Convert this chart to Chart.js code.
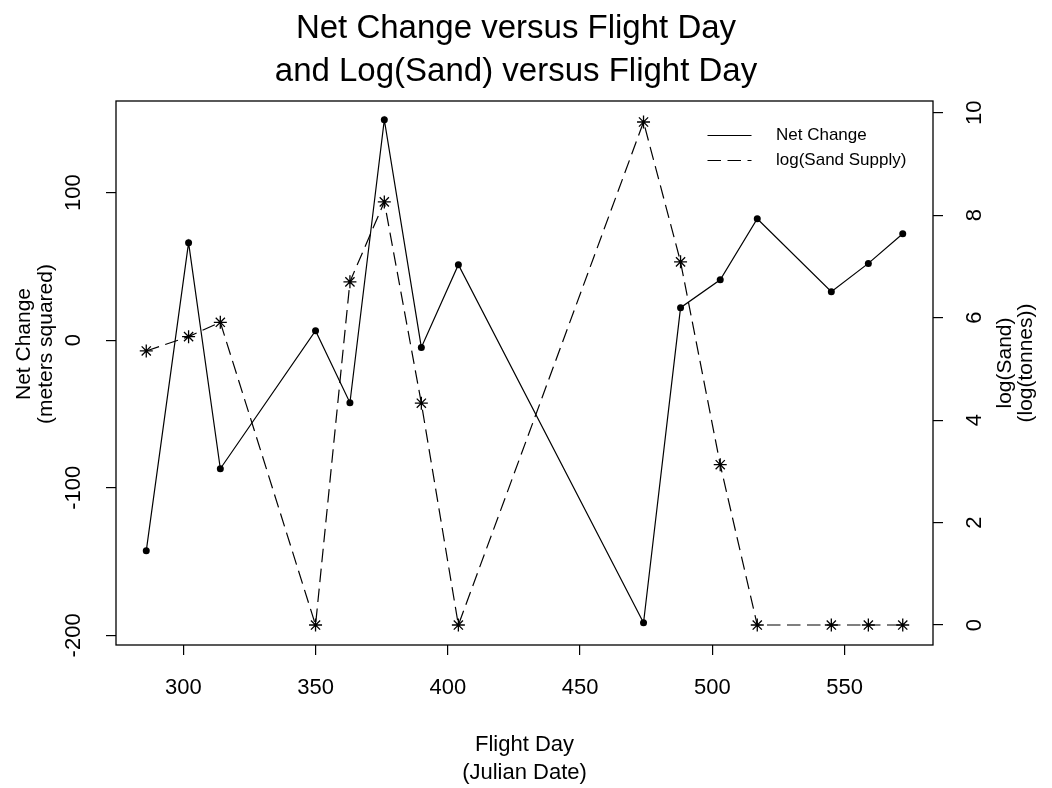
<html>
<head>
    <script src="https://cdn.jsdelivr.net/npm/chart.js"></script>
    <style>
        body { margin: 0; background: #ffffff; }
    </style>
</head>
<body>
    <canvas id="flightChart" width="1052" height="788"></canvas>
<script>
    // values
    const flightDays = [286, 302, 314, 350, 363, 376, 390, 404, 474, 488, 503, 517, 545, 559, 572];
    const netChange = [-142.7, 66.0, -87.1, 6.4, -42.4, 149.3, -4.9, 51.1, -191.5, 22.0, 40.9, 82.2, 32.8, 52.0, 72.1];
    const logSand = [5.35, 5.63, 5.91, 0, 6.70, 8.26, 4.33, 0, 9.82, 7.09, 3.13, 0, 0, 0, 0];

    const dayTicks = [300, 350, 400, 450, 500, 550];
    const netTicks = [-200, -100, 0, 100];
    const sandTicks = [0, 2, 4, 6, 8, 10];

    const mainTitle = ['Net Change versus Flight Day', 'and Log(Sand) versus Flight Day'];
    const dayTitle = ['Flight Day', '(Julian Date)'];
    const netTitle = ['Net Change', '(meters squared)'];
    const sandTitle = ['log(Sand)', '(log(tonnes))'];
    const seriesNames = ['Net Change', 'log(Sand Supply)'];

    const FONT = '"Liberation Sans", Arial, Helvetica, sans-serif';
    Chart.defaults.font.family = FONT;
    Chart.defaults.color = '#000';

    function toPoints(values) {
        return flightDays.map((d, i) => ({ x: d, y: values[i] }));
    }

    function fixedTicks(values) {
        return function (axis) {
            axis.ticks = values.map(v => ({ value: v }));
        };
    }

    const tickGrid = {
        drawOnChartArea: false,
        drawTicks: true,
        tickLength: 10,
        color: '#000',
        lineWidth: 1.2
    };

    // R style extras: box, rotated y labels, y titles, legend
    const rPlotExtras = {
        id: 'rPlotExtras',
        afterDraw(chart) {
            const ctx = chart.ctx;
            const a = chart.chartArea;
            ctx.save();
            ctx.strokeStyle = '#000';
            ctx.fillStyle = '#000';
            ctx.lineWidth = 1.3;
            ctx.strokeRect(a.left, a.top, a.right - a.left, a.bottom - a.top);

            ctx.font = '22px ' + FONT;
            ctx.textAlign = 'center';
            ctx.textBaseline = 'middle';
            sideLabels(ctx, chart.scales.y, a.left - 42);
            sideLabels(ctx, chart.scales.y1, a.right + 42);

            ctx.font = '21px ' + FONT;
            rotatedLines(ctx, netTitle, 24, 344, 22);
            rotatedLines(ctx, sandTitle, 1005, 363, 21);

            // legend, no box
            ctx.font = '17px ' + FONT;
            ctx.textAlign = 'left';
            chart.data.datasets.forEach((ds, i) => {
                const y = a.top + 34.5 + i * 25;
                ctx.lineWidth = ds.borderWidth;
                ctx.setLineDash(ds.borderDash || []);
                ctx.beginPath();
                ctx.moveTo(a.right - 225.5, y);
                ctx.lineTo(a.right - 181.5, y);
                ctx.stroke();
                ctx.setLineDash([]);
                ctx.fillText(ds.label, a.right - 157, y);
            });
            ctx.restore();
        }
    };

    function sideLabels(ctx, scale, x) {
        scale.ticks.forEach(t => {
            const y = scale.getPixelForValue(t.value);
            ctx.save();
            ctx.translate(x, y);
            ctx.rotate(-Math.PI / 2);
            ctx.fillText(t.label, 0, 0);
            ctx.restore();
        });
    }

    function rotatedLines(ctx, lines, x, y, step) {
        lines.forEach((txt, i) => {
            ctx.save();
            ctx.translate(x + i * step, y);
            ctx.rotate(-Math.PI / 2);
            ctx.fillText(txt, 0, 0);
            ctx.restore();
        });
    }

    function drawChart() {
        const ctx = document.getElementById('flightChart');
        const data = {
            datasets: [{
                label: seriesNames[0],
                data: toPoints(netChange),
                yAxisID: 'y',
                borderColor: '#000',
                borderWidth: 1.2,
                pointStyle: 'circle',
                pointRadius: 3.5,
                pointBackgroundColor: '#000',
                pointBorderWidth: 0,
                tension: 0
            },
            {
                label: seriesNames[1],
                data: toPoints(logSand),
                yAxisID: 'y1',
                borderColor: '#000',
                borderWidth: 1.2,
                borderDash: [13.5, 6.5],
                pointStyle: 'star',
                pointRadius: 6.5,
                pointBorderColor: '#000',
                pointBorderWidth: 1.3,
                tension: 0
            }]
        };

        const config = {
            type: 'line',
            data: data,
            options: {
                responsive: false,
                animation: false,
                events: [],
                // right padding pulls the centred title a little to the left, like the original
                layout: { padding: { left: 0, right: 20, top: 0, bottom: 0 } },
                scales: {
                    x: {
                        type: 'linear',
                        position: 'bottom',
                        min: 274.56,
                        max: 583.44,
                        afterBuildTicks: fixedTicks(dayTicks),
                        afterFit: s => { s.height = 143; },
                        grid: tickGrid,
                        border: { display: false },
                        ticks: { font: { size: 22 }, padding: 20, maxRotation: 0, autoSkip: false },
                        title: {
                            display: true,
                            text: dayTitle,
                            font: { size: 22, lineHeight: 1.27 },
                            padding: { top: 0, bottom: 1 }
                        }
                    },
                    y: {
                        type: 'linear',
                        position: 'left',
                        min: -206.5,
                        max: 162,
                        afterBuildTicks: fixedTicks(netTicks),
                        afterFit: s => { s.width = 116; },
                        grid: tickGrid,
                        border: { display: false },
                        ticks: { display: false }
                    },
                    y1: {
                        type: 'linear',
                        position: 'right',
                        min: -0.39,
                        max: 10.23,
                        afterBuildTicks: fixedTicks(sandTicks),
                        afterFit: s => { s.width = 99; },
                        grid: tickGrid,
                        border: { display: false },
                        ticks: { display: false }
                    }
                },
                plugins: {
                    legend: { display: false },
                    tooltip: { enabled: false },
                    title: {
                        display: true,
                        text: mainTitle,
                        color: '#000',
                        font: { size: 33, weight: 'normal', lineHeight: 1.32 },
                        padding: { top: 7, bottom: 6.88 }
                    }
                }
            },
            plugins: [rPlotExtras]
        };

        new Chart(ctx, config);
    }
    drawChart();
</script>
</body>
</html>
